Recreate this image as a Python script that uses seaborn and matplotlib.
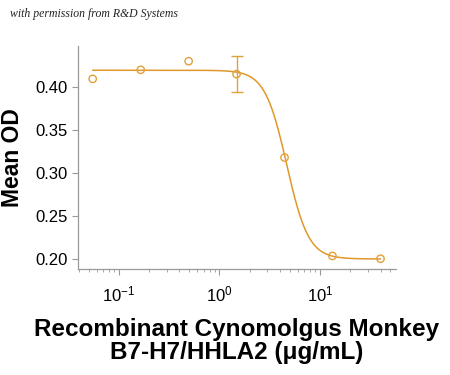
import numpy as np
import pandas as pd
import matplotlib
matplotlib.use("Agg")
import matplotlib.pyplot as plt
import seaborn as sns

# measured points
conc = [0.0549, 0.165, 0.494, 1.48, 4.44, 13.3, 40.0]
mean_od = [0.409, 0.4195, 0.4295, 0.4145, 0.3177, 0.2035, 0.2003]
err_od = [0, 0, 0, 0.021, 0, 0, 0]

# 4PL fit
top, bottom, ec50, hill = 0.419, 0.200, 4.67, 4.0

orange = "#E2A03A"

sns.set_style("ticks")
plt.rcParams["font.family"] = ["Liberation Sans", "DejaVu Sans"]
plt.rcParams["text.color"] = "black"
plt.rcParams["axes.labelcolor"] = "black"
plt.rcParams["mathtext.fontset"] = "custom"
plt.rcParams["mathtext.rm"] = "Liberation Sans"

df = pd.DataFrame({"conc": conc, "od": mean_od, "err": err_od})
xs = np.logspace(np.log10(conc[0]), np.log10(conc[-1]), 300)
fit = pd.DataFrame({"conc": xs, "od": bottom + (top - bottom) / (1 + (xs / ec50) ** hill)})

fig = plt.figure(figsize=(4.5, 3.75), dpi=100)
ax = fig.add_axes([0.173, 0.283, 0.707, 0.594])

sns.lineplot(data=fit, x="conc", y="od", color="#E0982A", linewidth=1.1, ax=ax)
sns.scatterplot(data=df, x="conc", y="od", s=28, marker="o", facecolor="none",
                edgecolor=orange, linewidth=1.0, ax=ax, zorder=3)
eb = df[df["err"] > 0]
ax.errorbar(eb["conc"], eb["od"], yerr=eb["err"], fmt="none", ecolor=orange,
            elinewidth=1.0, capsize=4, capthick=1.0)

ax.set_xscale("log")
ax.set_xlim(10 ** -1.408, 10 ** 1.756)
ax.set_ylim(0.1885, 0.447)
ax.set_yticks([0.20, 0.25, 0.30, 0.35, 0.40])
ax.set_yticklabels(["0.20", "0.25", "0.30", "0.35", "0.40"])

for lab in ax.get_yticklabels():
    lab.set_fontsize(12)
for lab in ax.get_xticklabels():
    lab.set_fontsize(12)

sns.despine(ax=ax)
for s in ["left", "bottom"]:
    ax.spines[s].set_color("#999999")
    ax.spines[s].set_linewidth(0.9)
ax.tick_params(axis="both", which="major", colors="#999999", labelcolor="black", length=4, width=0.8)
ax.tick_params(axis="x", which="minor", colors="#999999", length=2.5, width=0.6)
ax.tick_params(axis="x", which="major", pad=7)

ax.set_xlabel("Recombinant Cynomolgus Monkey\nB7-H7/HHLA2 (\u03bcg/mL)", fontsize=17.5,
              fontweight="bold", linespacing=1.0, labelpad=10)
ax.set_ylabel("Mean OD", fontsize=16.5, fontweight="bold", labelpad=8)

fig.text(0.022, 0.955, "with permission from R&D Systems", fontsize=8.5,
         style="italic", family=["Liberation Serif", "DejaVu Serif"], color="#222222")

fig.savefig("out.png", dpi=100)
